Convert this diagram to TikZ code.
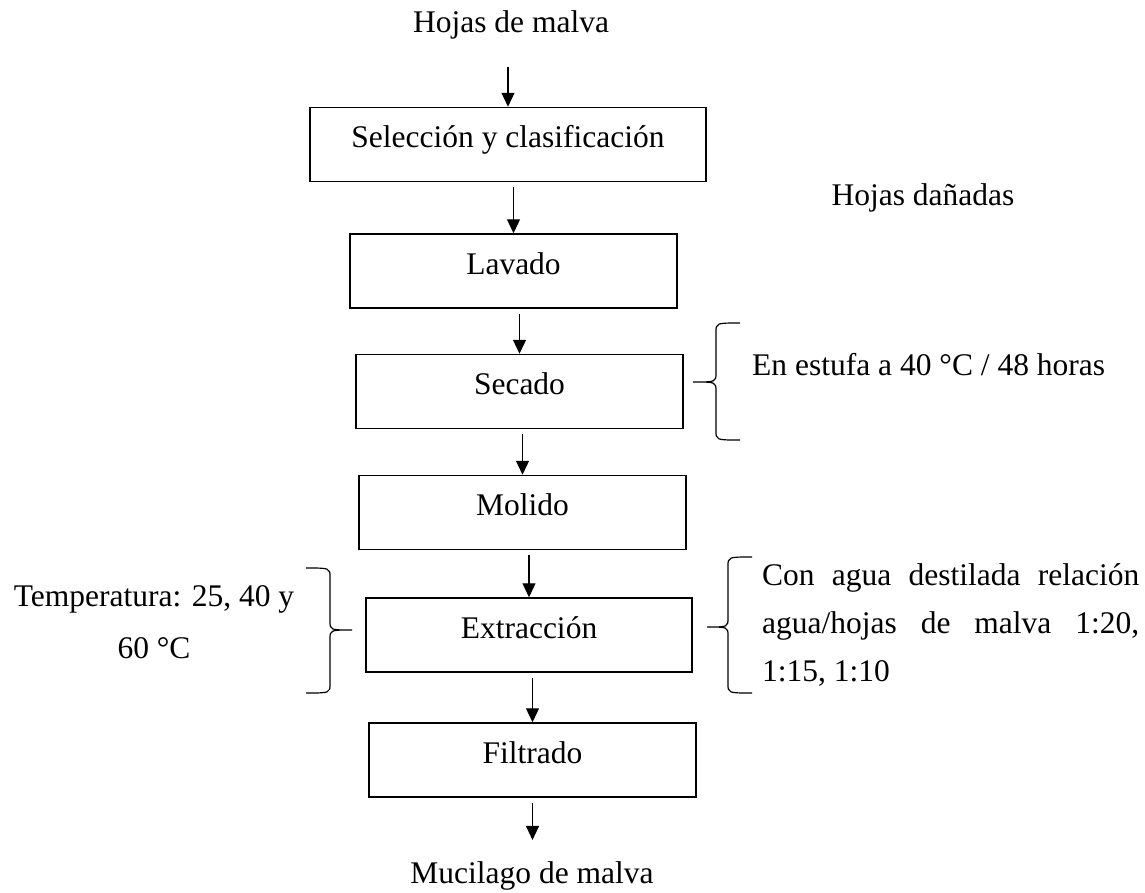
\documentclass[tikz,border=0pt]{standalone}
\usepackage{fontspec}
\setmainfont{Liberation Serif}
\usetikzlibrary{arrows.meta, calc}

% llave: extremo x, lomo x, punta x, arriba y, punta y, abajo y
\newcommand{\llave}[6]{%
  \draw[llave] (#1,#4) .. controls (#2,#4) .. (#2,#4+9)
    -- (#2,#5-9) .. controls (#2,#5) .. (#3,#5)
    .. controls (#2,#5) .. (#2,#5+9)
    -- (#2,#6-9) .. controls (#2,#6) .. (#1,#6);}

\begin{document}
\begin{tikzpicture}[x=1pt, y=-1pt,
    font=\fontsize{31.5}{38}\selectfont,
    paso/.style={draw, line width=1.5pt, minimum height=74pt, inner sep=0pt,
                 text height=22pt, text depth=16pt},
    flecha/.style={-{Triangle[length=14pt, width=13pt]}, line width=1.2pt},
    llave/.style={line width=1.2pt},
    texto/.style={inner sep=0pt, anchor=base}]
        \useasboundingbox (0,0) rectangle (1145,892);

        % Etapas del proceso
        \node[paso, minimum width=396pt] (sel) at (508,144.5) {Selección y clasificación};
        \node[paso, minimum width=327pt] (lav) at (513.5,271) {Lavado};
        \node[paso, minimum width=327pt] (sec) at (519.5,391.5) {Secado};
        \node[paso, minimum width=327pt] (mol) at (522.5,512.5) {Molido};
        \node[paso, minimum width=326pt] (ext) at (529,635) {Extracción};
        \node[paso, minimum width=327pt] (fil) at (532.5,760) {Filtrado};

        % Entrada y salida
        \node[texto] (hojas) at (511,32) {Hojas de malva};
        \node[texto] (muc) at (532,883) {Mucilago de malva};
        \node[texto] (danadas) at (923,205) {Hojas dañadas};

        % Condiciones
        \node[texto, anchor=base west] (estufa) at (752,375) {En estufa a 40 °C / 48 horas};
        \node[texto] (temp1) at (154,606) {Temperatura: 25, 40 y};
        \node[texto] (temp2) at (154,658) {60 °C};
        \node[texto, anchor=base west] (agua1) at (762,585) {\makebox[377pt][s]{Con agua destilada relación}};
        \node[texto, anchor=base west] (agua2) at (762,633) {\makebox[377pt][s]{agua/hojas de malva 1:20,}};
        \node[texto, anchor=base west] (agua3) at (762,681) {1:15, 1:10};

        % Flechas
        \draw[flecha] ([yshift=-35pt]hojas.base -| sel.north) -- (sel.north);
        \draw[flecha] ([yshift=-5pt]lav.north |- sel.south) -- (lav.north);
        \draw[flecha] ([yshift=-5pt]sec.north |- lav.south) -- (sec.north);
        \draw[flecha] ([yshift=-5pt]mol.north |- sec.south) -- (mol.north);
        \draw[flecha] ([yshift=-5pt]ext.north |- mol.south) -- (ext.north);
        \draw[flecha] ([yshift=-5pt]fil.north |- ext.south) -- (fil.north);
        \draw[flecha] ([yshift=-5pt]fil.south) -- ([yshift=21pt]fil.south |- muc.north);

        % Llaves
        \llave{740}{716}{693}{323}{382}{440}
        \llave{752}{728}{707}{557}{627}{693}
        \llave{306}{330}{352}{568}{630}{693}
    \end{tikzpicture}
\end{document}
